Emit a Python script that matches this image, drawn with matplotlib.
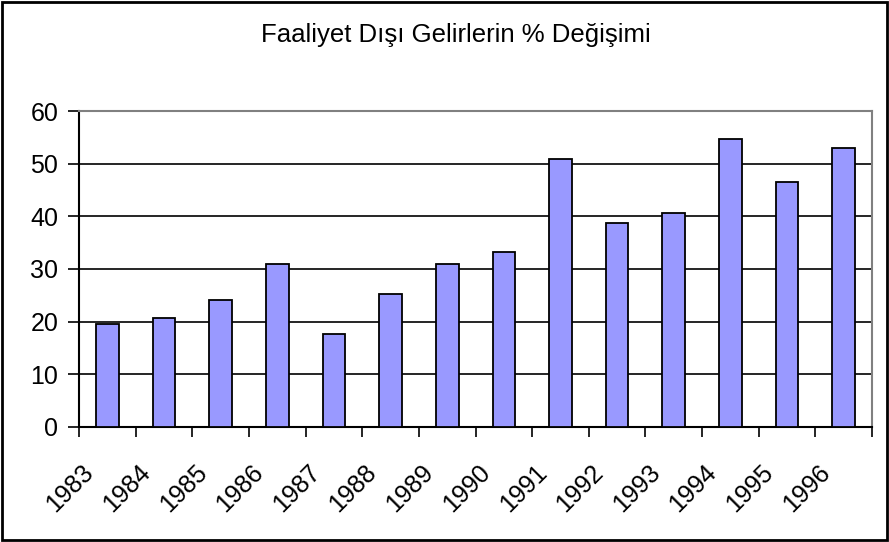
import matplotlib.pyplot as plt
import matplotlib.transforms as mtransforms
import numpy as np

# chart data
years = ['1983', '1984', '1985', '1986', '1987', '1988', '1989',
         '1990', '1991', '1992', '1993', '1994', '1995', '1996']
values = [19.6, 20.6, 24.1, 30.9, 17.6, 25.3, 31.0,
          33.3, 50.9, 38.8, 40.7, 54.7, 46.5, 52.9]
title = 'Faaliyet Dışı Gelirlerin % Değişimi'

plt.rcParams['font.family'] = ['Liberation Sans', 'DejaVu Sans']

fig = plt.figure(figsize=(8.89, 5.42), dpi=100)
ax = fig.add_axes([0.0889, 0.2122, 0.892, 0.583])

x = np.arange(len(years))
ax.bar(x, values, width=0.4, color='#9999FF', edgecolor='black',
       linewidth=1.3, zorder=3)

ax.set_xlim(-0.5, len(years) - 0.5)
ax.set_ylim(0, 60)
ax.set_yticks(range(0, 61, 10))
ax.yaxis.grid(True, color='black', linewidth=1.2, zorder=1)
ax.tick_params(axis='y', labelsize=18, length=8, width=1.2, pad=7)

# ticks between categories, labels at category centres
ax.set_xticks(np.arange(-0.5, len(years), 1.0))
ax.set_xticklabels([])
ax.tick_params(axis='x', length=7, width=1.2)
ax.set_xticks(x, minor=True)
ax.set_xticklabels(years, minor=True, rotation=45, ha='right', va='top',
                   fontsize=18)
ax.tick_params(axis='x', which='minor', length=0, pad=24)
offset = mtransforms.ScaledTranslation(-9 / 100, 0, fig.dpi_scale_trans)
for lbl in ax.get_xticklabels(minor=True):
    lbl.set_transform(lbl.get_transform() + offset)

ax.spines['left'].set_linewidth(1.5)
ax.spines['bottom'].set_linewidth(1.5)
ax.spines['top'].set_color('#808080')
ax.spines['right'].set_color('#808080')
ax.spines['top'].set_linewidth(1.5)
ax.spines['right'].set_linewidth(1.5)

fig.text(0.513, 0.935, title, ha='center', va='center', fontsize=18.5)

# outer chart border
fig.patches.append(plt.Rectangle((0.002, 0.003), 0.996, 0.994,
                                 transform=fig.transFigure, fill=False,
                                 edgecolor='black', linewidth=2))

fig.savefig('out.png', dpi=100)
